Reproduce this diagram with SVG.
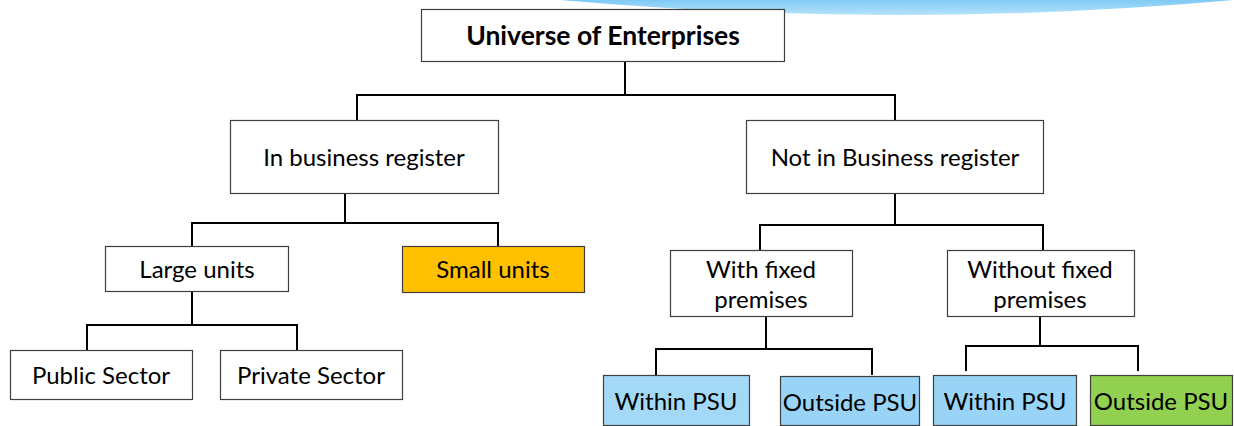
<svg xmlns="http://www.w3.org/2000/svg" width="1234" height="426" viewBox="0 0 1234 426">
<style>
.box{fill:#ffffff;stroke:#3f3f3f;stroke-width:1.2}
.t{font-family:Lato,"Open Sans","Liberation Sans",sans-serif;font-size:24px;fill:#000;text-anchor:middle;dominant-baseline:central}
.b{font-weight:bold;font-size:26.5px}
.c{fill:none;stroke:#000;stroke-width:2}
.blue{fill:#a3d9f7}
.blue2{fill:#99d3f5}
.yel{fill:#ffc000}
.grn{fill:#92d050}
</style>
<defs>
<linearGradient id="sw" x1="0" y1="0" x2="0" y2="1">
<stop offset="0" stop-color="#7fcaf5"/>
<stop offset="1" stop-color="#b5e2fb"/>
</linearGradient>
</defs>
<path d="M 560 0 Q 900 30 1234 0 Z" fill="url(#sw)"/>
<g id="connectors">
<path class="c" d="M625 62 V95 M357 95 H895 M357 94 V120 M895 94 V120"/>
<path class="c" d="M345 193 V223 M192 223 H498 M192 222 V246 M498 222 V246"/>
<path class="c" d="M192 291 V325 M87 325 H297 M87 324 V350 M297 324 V350"/>
<path class="c" d="M895 193 V225 M760 225 H1043 M760 224 V250 M1043 224 V250"/>
<path class="c" d="M766 316 V349 M656 349 H872 M656 348 V375 M872 348 V375"/>
<path class="c" d="M1040 316 V346 M966 346 H1138 M966 345 V371 M1138 345 V371"/>
</g>
<g id="n-universe"><rect class="box" x="421.5" y="9.5" width="363" height="52"/><text class="t b" x="603" y="35">Universe of Enterprises</text></g>
<g id="n-inbr"><rect class="box" x="230.5" y="120.5" width="268" height="73"/><text class="t" x="364" y="156">In business register</text></g>
<g id="n-notbr"><rect class="box" x="746.5" y="120.5" width="297" height="73"/><text class="t" x="895" y="156">Not in Business register</text></g>
<g id="n-large"><rect class="box" x="105.5" y="246.5" width="183" height="45"/><text class="t" x="197" y="268">Large units</text></g>
<g id="n-small"><rect class="box yel" x="402.5" y="246.5" width="182" height="46"/><text class="t" x="493" y="268">Small units</text></g>
<g id="n-public"><rect class="box" x="10.5" y="350.5" width="182" height="49"/><text class="t" x="101" y="374">Public Sector</text></g>
<g id="n-private"><rect class="box" x="220.5" y="350.5" width="182" height="49"/><text class="t" x="311" y="374">Private Sector</text></g>
<g id="n-withfixed"><rect class="box" x="670.5" y="250.5" width="182" height="66"/><text class="t" x="761" y="268">With fixed</text><text class="t" x="761" y="298">premises</text></g>
<g id="n-withoutfixed"><rect class="box" x="947.5" y="250.5" width="187" height="66"/><text class="t" x="1040" y="268">Without fixed</text><text class="t" x="1040" y="298">premises</text></g>
<g id="n-within1"><rect class="box blue" x="603.5" y="375.5" width="146" height="50"/><text class="t" x="676" y="400">Within PSU</text></g>
<g id="n-outside1"><rect class="box blue2" x="780.5" y="376.5" width="139" height="49"/><text class="t" x="850" y="401">Outside PSU</text></g>
<g id="n-within2"><rect class="box blue2" x="933.5" y="375.5" width="143" height="50"/><text class="t" x="1005" y="400">Within PSU</text></g>
<g id="n-outside2"><rect class="box grn" x="1090.5" y="375.5" width="142" height="50"/><text class="t" x="1161" y="400">Outside PSU</text></g>
</svg>
